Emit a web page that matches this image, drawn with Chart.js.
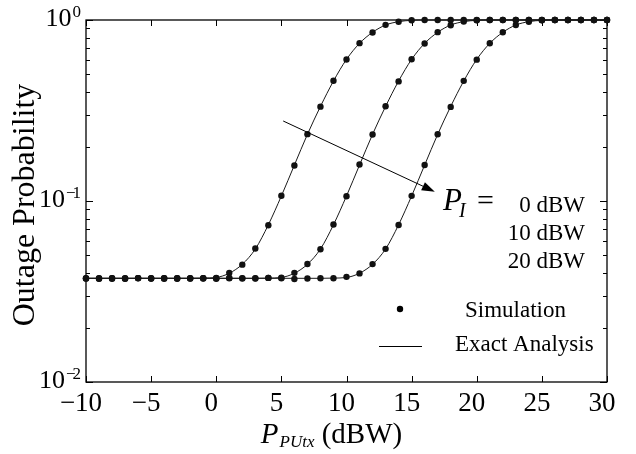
<!DOCTYPE html>
<html>
<head>
<meta charset="utf-8">
<script src="https://cdn.jsdelivr.net/npm/chart.js@4/dist/chart.umd.min.js"></script>
<style>
html,body{margin:0;padding:0;background:#fff;}
#c{display:block;}
</style>
</head>
<body>
<canvas id="c" width="636" height="454"></canvas>
<script>
// ---- data ----
const xValues = [-10,-9,-8,-7,-6,-5,-4,-3,-2,-1,0,1,2,3,4,5,6,7,8,9,10,11,12,13,14,15,16,17,18,19,20,21,22,23,24,25,26,27,28,29,30];

// Exact analysis, P_I = 0 dBW
const analysis0 = [0.0374,0.0374,0.0374,0.0374,0.0374,0.0374,0.0374,0.0374,0.0374,0.0375,
  0.0378,0.0399,0.0447,0.0543,0.0739,0.1066,0.158,0.2335,0.333,0.46,0.606,0.743,0.855,0.938,0.979,0.996,
  1,1,1,1,1,1,1,1,1,1,1,1,1,1,1];
// Exact analysis, P_I = 10 dBW
const analysis10 = [0.0374,0.0374,0.0374,0.0374,0.0374,0.0374,0.0374,0.0374,0.0374,0.0374,0.0374,0.0374,0.0374,0.0374,0.0375,
  0.0378,0.0399,0.0447,0.0543,0.0739,0.1066,0.158,0.2335,0.333,0.46,0.606,0.743,0.855,0.938,0.979,0.996,
  1,1,1,1,1,1,1,1,1,1];
// Exact analysis, P_I = 20 dBW
const analysis20 = [0.0374,0.0374,0.0374,0.0374,0.0374,0.0374,0.0374,0.0374,0.0374,0.0374,0.0374,0.0374,0.0374,0.0374,0.0374,0.0374,0.0374,0.0374,0.0374,0.0375,
  0.0378,0.0399,0.0447,0.0543,0.0739,0.1066,0.158,0.2335,0.333,0.46,0.606,0.743,0.855,0.938,0.979,0.996,
  1,1,1,1,1];

// Simulation points
const sim0 = [0.0373,0.0372,0.0374,0.0373,0.0375,0.0374,0.0372,0.0374,0.0373,0.0375,
  0.0376,0.0401,0.0445,0.0546,0.0735,0.107,0.157,0.234,0.332,0.462,0.605,0.745,0.853,0.94,0.978,0.997,
  1,1,1,1,1,1,1,1,1,1,1,1,1,1,1];
const sim10 = [0.0374,0.0373,0.0372,0.0374,0.0375,0.0373,0.0374,0.0372,0.0375,0.0373,0.0374,0.0376,0.0373,0.0374,0.0376,
  0.0377,0.0401,0.0449,0.0541,0.0742,0.1062,0.159,0.233,0.334,0.458,0.607,0.741,0.857,0.936,0.98,0.997,
  1,1,1,1,1,1,1,1,1,1];
const sim20 = [0.0373,0.0374,0.0375,0.0372,0.0374,0.0373,0.0375,0.0374,0.0373,0.0374,0.0372,0.0374,0.0375,0.0373,0.0376,0.0374,0.0371,0.0373,0.0374,0.0374,
  0.0381,0.0398,0.0448,0.0544,0.0737,0.1068,0.158,0.2338,0.331,0.461,0.604,0.744,0.856,0.939,0.978,0.996,
  1,1,1,1,1];

// ticks and labels
const xTickValues = [-10,-5,0,5,10,15,20,25,30];
const yTickValues = [0.01, 0.1, 1];
const yTickExponents = ['\u22122', '\u22121', '0'];
const piLabels = ['0 dBW', '10 dBW', '20 dBW'];
const legendLabels = ['Simulation', 'Exact Analysis'];
const xTitleMain = 'P', xTitleSub = 'PUtx', xTitleUnit = ' (dBW)';
const yTitle = 'Outage Probability';
// arrow endpoints (data coordinates)
const arrowFrom = {x: 5.14, y: 0.2767};
const arrowTo = {x: 16.78, y: 0.1125};

const SERIF = '"Liberation Serif", "Times New Roman", serif';
const toXY = arr => arr.map((v, i) => ({x: xValues[i], y: v}));

function lineDs(arr){
  return {type:'line', data: toXY(arr), borderColor:'#1a1a1a', borderWidth:1, pointRadius:0,
    cubicInterpolationMode:'monotone', fill:false, clip:false, order:2};
}
function simDs(arr){
  return {type:'scatter', data: toXY(arr), showLine:false, pointRadius:3.2, pointBackgroundColor:'#111',
    pointBorderColor:'#111', pointBorderWidth:0, clip:false, order:1};
}

const deco = {
  id:'deco',
  beforeDatasetsDraw(chart){
    const {ctx, chartArea:a, scales:{x, y}} = chart;
    ctx.save();
    ctx.strokeStyle = '#000';
    ctx.lineWidth = 1.3;
    ctx.strokeRect(a.left, a.top, a.right - a.left, a.bottom - a.top);
    ctx.lineWidth = 1;
    ctx.beginPath();
    xTickValues.forEach(v => {
      const px = Math.round(x.getPixelForValue(v)) + 0.5;
      ctx.moveTo(px, a.bottom); ctx.lineTo(px, a.bottom - 6);
      ctx.moveTo(px, a.top); ctx.lineTo(px, a.top + 6);
    });
    for (let d = -2; d <= 0; d++) {
      for (let m = 1; m <= 9; m++) {
        const val = m * Math.pow(10, d);
        if (val > 1.0001) break;
        const py = Math.round(y.getPixelForValue(val)) + 0.5;
        const len = m === 1 ? 7 : 4;
        ctx.moveTo(a.left, py); ctx.lineTo(a.left + len, py);
        ctx.moveTo(a.right, py); ctx.lineTo(a.right - len, py);
      }
    }
    ctx.stroke();
    ctx.restore();
  },
  afterDraw(chart){
    const {ctx, chartArea:a, scales:{x, y}} = chart;
    ctx.save();
    ctx.fillStyle = '#000';
    ctx.strokeStyle = '#000';
    ctx.textBaseline = 'alphabetic';

    // y tick labels 10^k
    const fTen = '26px ' + SERIF, fSup = '17px ' + SERIF;
    yTickValues.forEach((v, i) => {
      const py = y.getPixelForValue(v);
      const ex = yTickExponents[i];
      ctx.font = fTen;
      const w10 = ctx.measureText('10').width;
      ctx.font = fSup;
      let parts = [];
      let ws = 0;
      for (const ch of ex) {
        const w = ctx.measureText(ch).width;
        const adv = ch === '\u2212' ? w - 3 : w;
        parts.push([ch, ws]);
        ws += adv;
      }
      const right = a.left - 5;
      const x0 = right - ws - w10 - 1;
      ctx.textAlign = 'left';
      ctx.font = fTen;
      ctx.fillText('10', x0, py + 6);
      ctx.font = fSup;
      parts.forEach(([ch, off]) => ctx.fillText(ch, x0 + w10 + 1 + off, py - 3));
    });

    // y title
    ctx.save();
    ctx.translate(34, (a.top + a.bottom) / 2 + 4);
    ctx.rotate(-Math.PI / 2);
    ctx.font = '32px ' + SERIF;
    ctx.textAlign = 'center';
    ctx.fillText(yTitle, 0, 0);
    ctx.restore();

    // x title
    {
      const fMain = 'italic 29px ' + SERIF, fSub = 'italic 17px ' + SERIF, fUnit = '29px ' + SERIF;
      ctx.font = fMain; const w1 = ctx.measureText(xTitleMain).width;
      ctx.font = fSub; const w2 = ctx.measureText(xTitleSub).width;
      ctx.font = fUnit; const w3 = ctx.measureText(xTitleUnit).width;
      const total = w1 + 1 + w2 + w3;
      let x0 = (a.left + a.right) / 2 - 15 - total / 2;
      const base = 443;
      ctx.textAlign = 'left';
      ctx.font = fMain; ctx.fillText(xTitleMain, x0, base); x0 += w1 + 1;
      ctx.font = fSub; ctx.fillText(xTitleSub, x0, base + 4); x0 += w2;
      ctx.font = fUnit; ctx.fillText(xTitleUnit, x0, base);
    }

    // arrow
    {
      const x1 = x.getPixelForValue(arrowFrom.x), y1 = y.getPixelForValue(arrowFrom.y);
      const x2 = x.getPixelForValue(arrowTo.x), y2 = y.getPixelForValue(arrowTo.y);
      const ang = Math.atan2(y2 - y1, x2 - x1);
      const hl = 13, hw = 4.5;
      const bx = x2 - hl * Math.cos(ang), by = y2 - hl * Math.sin(ang);
      ctx.lineWidth = 1;
      ctx.beginPath(); ctx.moveTo(x1, y1); ctx.lineTo(bx, by); ctx.stroke();
      ctx.beginPath();
      ctx.moveTo(x2, y2);
      ctx.lineTo(bx + hw * Math.sin(ang), by - hw * Math.cos(ang));
      ctx.lineTo(bx - hw * Math.sin(ang), by + hw * Math.cos(ang));
      ctx.closePath(); ctx.fill();
    }

    // P_I = labels
    ctx.textAlign = 'left';
    ctx.font = 'italic 31px ' + SERIF;
    ctx.fillText('P', 443, 210);
    ctx.font = 'italic 20px ' + SERIF;
    ctx.fillText('I', 459, 217);
    ctx.font = '30px ' + SERIF;
    ctx.fillText('=', 477, 210);
    ctx.font = '23px ' + SERIF;
    ctx.textAlign = 'right';
    const piBase = [212, 240, 268];
    piLabels.forEach((t, i) => ctx.fillText(t, 585, piBase[i]));

    // legend
    ctx.beginPath(); ctx.arc(400, 309, 3.2, 0, Math.PI * 2); ctx.fill();
    ctx.lineWidth = 1;
    ctx.beginPath(); ctx.moveTo(379, 346.5); ctx.lineTo(422, 346.5); ctx.stroke();
    ctx.textAlign = 'left';
    ctx.font = '23px ' + SERIF;
    ctx.fillText(legendLabels[0], 465, 317);
    ctx.fillText(legendLabels[1], 455, 351);
    ctx.restore();
  }
};

new Chart(document.getElementById('c'), {
  data: {
    datasets: [
      lineDs(analysis0), lineDs(analysis10), lineDs(analysis20),
      simDs(sim0), simDs(sim10), simDs(sim20)
    ]
  },
  options: {
    responsive: false,
    animation: false,
    devicePixelRatio: 1,
    layout: {padding: {top: 20, right: 29, left: 0, bottom: 0}},
    plugins: {legend: {display: false}, tooltip: {enabled: false}},
    scales: {
      x: {
        type: 'linear', min: -10, max: 30,
        afterBuildTicks: s => { s.ticks = xTickValues.map(v => ({value: v})); },
        ticks: {
          font: {family: SERIF, size: 27}, color: '#000', padding: 6, labelOffset: -5,
          maxRotation: 0, autoSkip: false,
          callback: v => (v < 0 ? '\u2212' + Math.abs(v) : String(v))
        },
        grid: {display: false, drawTicks: false},
        border: {display: false},
        afterFit: s => { s.height = 72; }
      },
      y: {
        type: 'logarithmic', min: 0.01, max: 1,
        ticks: {display: false},
        grid: {display: false, drawTicks: false},
        border: {display: false},
        afterFit: s => { s.width = 86; }
      }
    }
  },
  plugins: [deco]
});
</script>
</body>
</html>
